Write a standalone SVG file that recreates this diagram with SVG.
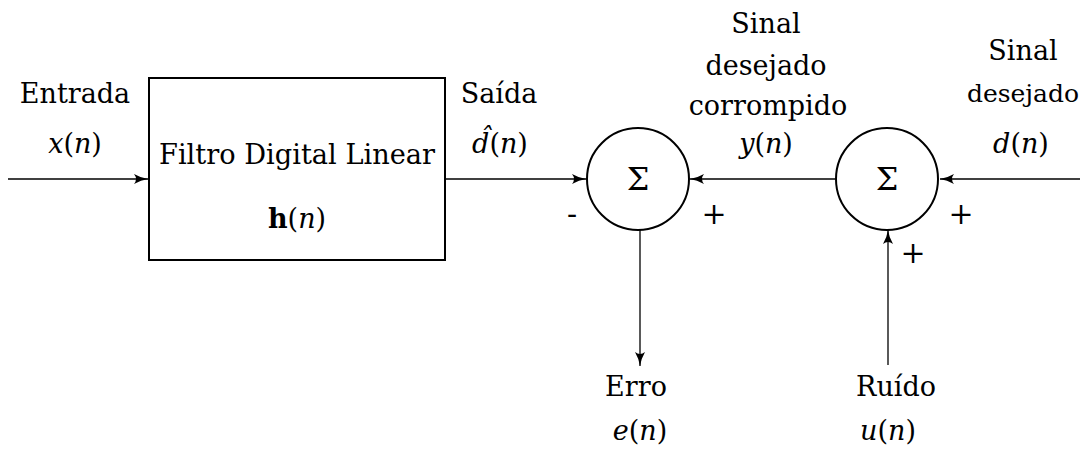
<svg xmlns="http://www.w3.org/2000/svg" width="1086" height="449" viewBox="0 0 1086 449">
<style>
.t{font-family:"DejaVu Serif","Liberation Serif",serif;font-size:27px;fill:#000;text-anchor:middle}
.i{font-style:italic}
.s{font-size:32px}
.p{font-size:30px;font-weight:200}
.ln{stroke:#000;stroke-width:1.3;fill:none}
.sh{fill:#fff;stroke:#000;stroke-width:2}
</style>
<defs>
<marker id="ah" viewBox="0 0 14 10" refX="14" refY="5" markerWidth="14" markerHeight="10" markerUnits="userSpaceOnUse" orient="auto">
<path d="M0,0 Q7,4 14,5 Q7,6 0,10 Q4,5 0,0 Z" fill="#000"/>
</marker>
</defs>
<g id="connectors">
<line class="ln" x1="8" y1="179" x2="148" y2="179" marker-end="url(#ah)"/>
<line class="ln" x1="446" y1="179" x2="586" y2="179" marker-end="url(#ah)"/>
<line class="ln" x1="835" y1="179" x2="690" y2="179" marker-end="url(#ah)"/>
<line class="ln" x1="1080" y1="179" x2="940" y2="179" marker-end="url(#ah)"/>
<line class="ln" x1="640" y1="230" x2="640" y2="366" marker-end="url(#ah)"/>
<line class="ln" x1="888" y1="365" x2="888" y2="230" marker-end="url(#ah)"/>
</g>
<g id="filtro">
<rect class="sh" x="149" y="78" width="296" height="182"/>
<text class="t" x="297" y="164" textLength="276" lengthAdjust="spacingAndGlyphs">Filtro Digital Linear</text>
<text class="t" x="297" y="228"><tspan font-weight="bold">h</tspan>(<tspan class="i">n</tspan>)</text>
</g>
<g id="soma1">
<circle class="sh" cx="638" cy="179" r="51"/>
<text class="t s" x="638" y="190">Σ</text>
<text class="t p" x="572" y="224">-</text>
<text class="t p" x="714" y="224">+</text>
</g>
<g id="soma2">
<circle class="sh" cx="887" cy="179" r="51"/>
<text class="t s" x="887" y="190">Σ</text>
<text class="t p" x="961" y="224">+</text>
<text class="t p" x="913" y="263">+</text>
</g>
<g id="entrada">
<text class="t" x="75" y="103">Entrada</text>
<text class="t" x="75" y="153"><tspan class="i">x</tspan>(<tspan class="i">n</tspan>)</text>
</g>
<g id="saida">
<text class="t" x="499" y="103">Saída</text>
<text class="t" x="500" y="153"><tspan class="i">d̂</tspan>(<tspan class="i">n</tspan>)</text>
</g>
<g id="corrompido">
<text class="t" x="766" y="33">Sinal</text>
<text class="t" x="766" y="75">desejado</text>
<text class="t" x="768" y="115">corrompido</text>
<text class="t" x="766" y="153"><tspan class="i">y</tspan>(<tspan class="i">n</tspan>)</text>
</g>
<g id="desejado">
<text class="t" x="1023" y="60">Sinal</text>
<text class="t" x="1023" y="102" style="font-size:25px">desejado</text>
<text class="t" x="1021" y="153"><tspan class="i">d</tspan>(<tspan class="i">n</tspan>)</text>
</g>
<g id="erro">
<text class="t" x="636" y="396">Erro</text>
<text class="t" x="640" y="440"><tspan class="i">e</tspan>(<tspan class="i">n</tspan>)</text>
</g>
<g id="ruido">
<text class="t" x="896" y="396">Ruído</text>
<text class="t" x="888" y="440"><tspan class="i">u</tspan>(<tspan class="i">n</tspan>)</text>
</g>
</svg>
